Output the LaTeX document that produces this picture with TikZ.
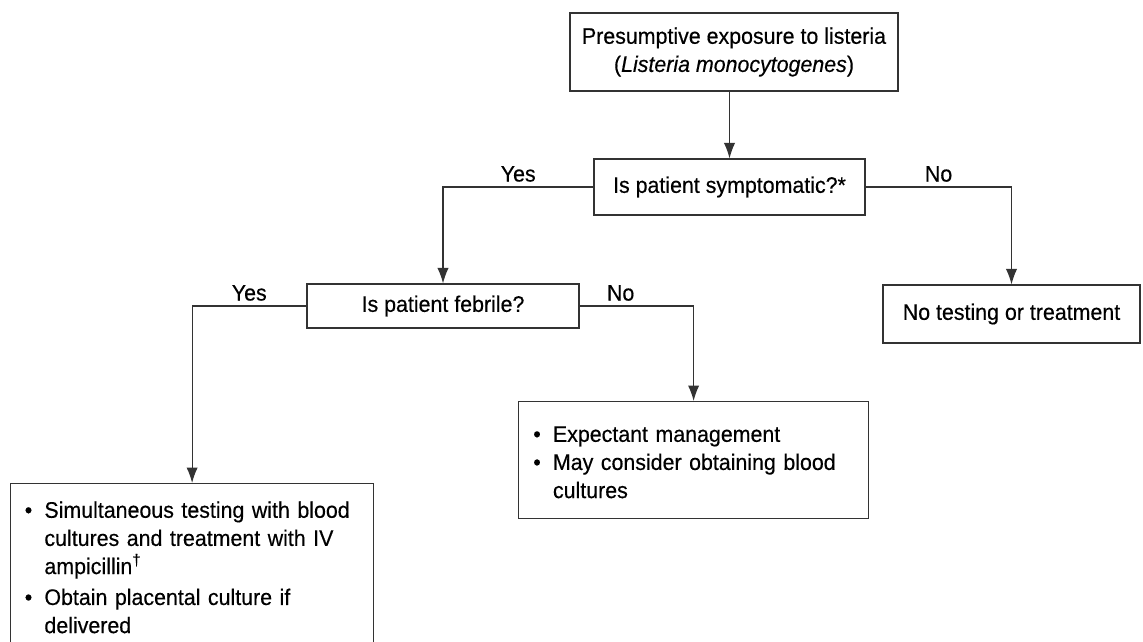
\documentclass[tikz,border=0pt]{standalone}
\usepackage{fontspec}
\setmainfont[FakeStretch=0.95,FakeBold=0.4]{Liberation Sans}
\usepackage{tikz}
\usetikzlibrary{arrows.meta}

\newcommand{\bitem}[1]{\par\noindent\hangindent=14pt\hangafter=1\makebox[14pt][l]{\textbullet}#1}

\begin{document}
\begin{tikzpicture}[x=0.025cm,y=-0.025cm,
    every node/.style={font=\fontsize{16pt}{20pt}\selectfont},
    box/.style={draw=black!80,line width=.8pt,align=center},
    listbox/.style={draw=black!80,line width=.8pt,anchor=north west,inner xsep=10pt,inner ysep=8pt,align=left},
    conn/.style={draw=black!80,line width=.8pt,-{Latex[length=11pt,width=8pt]}}]
      \useasboundingbox (0,0) rectangle (1143,641);
      %% questions
      \node[box,minimum width=8.2cm,minimum height=1.95cm] (expo) at (734,52)
        {Presumptive exposure to listeria\\(\textit{Listeria monocytogenes})};
      \node[box,minimum width=6.775cm,minimum height=1.4cm] (sympt) at (729.5,187) {Is patient symptomatic?*};
      \node[box,minimum width=6.8cm,minimum height=1.1cm] (febr) at (443,306) {Is patient febrile?};
      %% outcomes
      \node[box,minimum width=6.425cm,minimum height=1.45cm] (notest) at (1011.5,314) {No testing or treatment};
      \node[listbox,text width=228pt,minimum width=8.75cm,minimum height=2.925cm] (expect) at (518,401)
        {\bitem{\rule{0pt}{18pt}Expectant management}
         \bitem{May consider obtaining blood\newline cultures\strut}\par};
      \node[listbox,inner ysep=4pt,text width=238pt,minimum width=9.075cm,minimum height=4.1cm] (treat) at (10,483)
        {\bitem{\rule{0pt}{12pt}Simultaneous testing with blood\newline cultures and treatment with IV\newline ampicillin\textsuperscript{\dag}}
         \par\vspace{2pt}
         \bitem{Obtain placental culture if\newline delivered\strut}\par};
      %% arrows
      \draw[conn] (sympt.north |- expo.south) -- (sympt.north);
      \draw[conn] (sympt.west) -| node[pos=.25,above] {Yes} (febr.north);
      \draw[conn] (sympt.east) -| node[pos=.25,above] {No} (notest.north);
      \draw[conn] (febr.west) -| node[pos=.25,above] {Yes} (treat.north);
      \draw[conn] (febr.east) -| node[pos=.18,above] {No} (expect.north);
\end{tikzpicture}
\end{document}
